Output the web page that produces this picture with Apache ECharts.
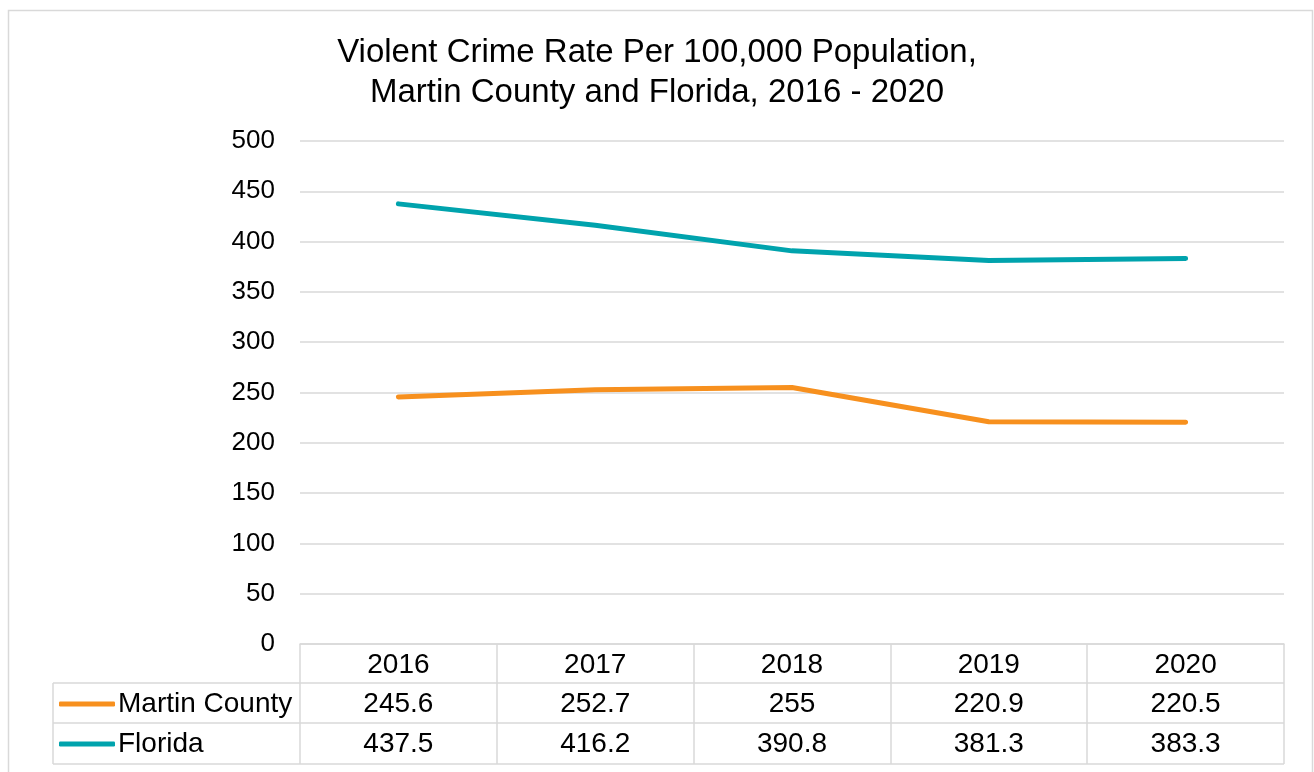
<!DOCTYPE html>
<html>
<head>
<meta charset="utf-8">
<title>Violent Crime Rate Per 100,000 Population</title>
<script src="https://cdn.jsdelivr.net/npm/echarts@6/dist/echarts.min.js"></script>
<style>
  html, body { margin: 0; padding: 0; background: #ffffff; }
  #chart { width: 1314px; height: 772px; }
</style>
</head>
<body>
<div id="chart"></div>
<script>
// Chart data
const years = ['2016', '2017', '2018', '2019', '2020'];
const martinCounty = [245.6, 252.7, 255, 220.9, 220.5];
const florida = [437.5, 416.2, 390.8, 381.3, 383.3];
const seriesNames = ['Martin County', 'Florida'];
const yTicks = { min: 0, max: 500, step: 50 };

// Layout of the plot area and the data table beneath it
const FONT = "'Liberation Sans', Arial, sans-serif";
const GRID = { left: 300, right: 1284, top: 141, bottom: 644 };
const ROW_H = [39, 79, 120];     // offsets of table row lines below the plot
const TABLE_LEFT = 53;
const TABLE_FONT = 28;
const LINE_GREY = '#D9D9D9';
const COLORS = ['#F7901E', '#00A3AD'];

const chart = echarts.init(document.getElementById('chart'), null, { renderer: 'canvas' });

function hLine(x1, x2, y) {
  return { type: 'line', shape: { x1: x1, y1: y, x2: x2, y2: y },
           style: { stroke: LINE_GREY, lineWidth: 1.5 }, silent: true };
}
function vLine(x, y1, y2) {
  return { type: 'line', shape: { x1: x, y1: y1, x2: x, y2: y2 },
           style: { stroke: LINE_GREY, lineWidth: 1.5 }, silent: true };
}

const tableGraphics = [
  { type: 'rect', shape: { x: 8.5, y: 10.5, width: 1304, height: 800 },
    style: { fill: null, stroke: LINE_GREY, lineWidth: 1.5 }, silent: true, z: -1 },
  hLine(TABLE_LEFT, GRID.right, GRID.bottom + ROW_H[0]),
  hLine(TABLE_LEFT, GRID.right, GRID.bottom + ROW_H[1]),
  hLine(TABLE_LEFT, GRID.right, GRID.bottom + ROW_H[2]),
  vLine(TABLE_LEFT, GRID.bottom + ROW_H[0], GRID.bottom + ROW_H[2])
];

// Extra category axes under the plot carry the value rows of the table
function valueAxis(values, offset) {
  return {
    type: 'category',
    data: years,
    position: 'bottom',
    offset: offset,
    boundaryGap: true,
    axisLine: { show: false },
    axisTick: { show: false },
    axisLabel: {
      margin: 6,
      fontFamily: FONT, fontSize: TABLE_FONT, color: '#000',
      formatter: function (v, i) { return String(values[i]); }
    }
  };
}

const option = {
  backgroundColor: '#ffffff',
  animation: false,
  title: {
    text: 'Violent Crime Rate Per 100,000 Population,\nMartin County and Florida, 2016 - 2020',
    left: 'center',
    top: 28,
    padding: [5, 5, 5, 13],
    textStyle: { fontFamily: FONT, fontSize: 33, fontWeight: 'normal', color: '#000', lineHeight: 40 }
  },
  legend: {
    orient: 'vertical',
    left: 54,
    top: 685,
    itemWidth: 56,
    itemHeight: 5,
    itemGap: 12,
    icon: 'roundRect',
    data: seriesNames,
    textStyle: { fontFamily: FONT, fontSize: TABLE_FONT, color: '#000', lineHeight: 28, padding: [0, 0, 0, -2] }
  },
  grid: {
    left: GRID.left,
    right: 1314 - GRID.right,
    top: GRID.top,
    bottom: 772 - GRID.bottom,
    containLabel: false
  },
  xAxis: [
    {
      type: 'category',
      data: years,
      position: 'bottom',
      boundaryGap: true,
      axisLine: { show: true, lineStyle: { color: LINE_GREY, width: 1.5 } },
      axisTick: { show: true, length: ROW_H[2], lineStyle: { color: LINE_GREY, width: 1.5 } },
      axisLabel: { margin: 7, fontFamily: FONT, fontSize: TABLE_FONT, color: '#000' }
    },
    valueAxis(martinCounty, ROW_H[0] + 1),
    valueAxis(florida, ROW_H[1] + 1)
  ],
  yAxis: {
    type: 'value',
    min: yTicks.min,
    max: yTicks.max,
    interval: yTicks.step,
    axisLine: { show: false },
    axisTick: { show: false },
    splitLine: { lineStyle: { color: LINE_GREY, width: 1.5 } },
    axisLabel: { margin: 25, fontFamily: FONT, fontSize: 26, color: '#000' }
  },
  series: [
    {
      name: seriesNames[0],
      type: 'line',
      data: martinCounty,
      symbol: 'none',
      color: COLORS[0],
      lineStyle: { width: 5, color: COLORS[0], cap: 'round', join: 'round' },
      z: 3
    },
    {
      name: seriesNames[1],
      type: 'line',
      data: florida,
      symbol: 'none',
      color: COLORS[1],
      lineStyle: { width: 5, color: COLORS[1], cap: 'round', join: 'round' },
      z: 3
    }
  ],
  graphic: tableGraphics
};

chart.setOption(option);
</script>
</body>
</html>
